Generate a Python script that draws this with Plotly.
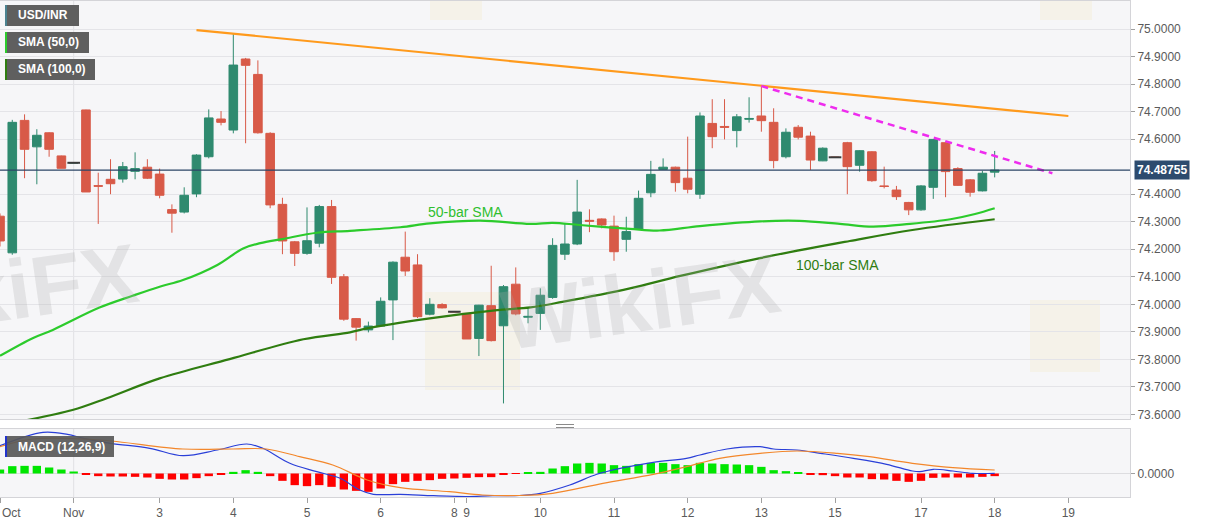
import plotly.graph_objects as go

# ------------------------------------------------------------------ data
# 4-hour USD/INR candles, index 0 = first visible bar
open_ = [74.320, 74.187, 74.668, 74.572, 74.623, 74.539, 74.514, 74.706, 74.431, 74.454,
         74.455, 74.483, 74.498, 74.473, 74.344, 74.335, 74.401, 74.536, 74.673, 74.633,
         74.891, 74.835, 74.621, 74.363, 74.227, 74.185, 74.222, 74.355, 74.100, 73.948,
         73.907, 73.921, 74.016, 74.171, 74.143, 73.964, 73.999, 73.973, 73.967, 73.876,
         73.995, 73.922, 74.073, 73.953, 73.967, 74.025, 74.182, 74.219, 74.305, 74.310,
         74.284, 74.236, 74.272, 74.405, 74.490, 74.498, 74.458, 74.400, 74.657, 74.646,
         74.631, 74.672, 74.684, 74.661, 74.536, 74.643, 74.611, 74.521, 74.534, 74.587,
         74.505, 74.554, 74.430, 74.415, 74.370, 74.343, 74.425, 74.587, 74.493, 74.452,
         74.412, 74.480]
high = [74.330, 74.670, 74.690, 74.636, 74.625, 74.540, 74.514, 74.707, 74.478, 74.527,
        74.517, 74.552, 74.527, 74.493, 74.363, 74.425, 74.545, 74.708, 74.702, 74.982,
        74.895, 74.886, 74.625, 74.387, 74.230, 74.352, 74.361, 74.379, 74.110, 73.950,
        73.937, 74.025, 74.156, 74.264, 74.182, 74.022, 74.004, 73.973, 73.968, 73.998,
        74.140, 74.070, 74.134, 73.985, 74.058, 74.240, 74.294, 74.452, 74.345, 74.312,
        74.322, 74.318, 74.413, 74.521, 74.530, 74.500, 74.609, 74.697, 74.745, 74.745,
        74.691, 74.752, 74.793, 74.712, 74.639, 74.651, 74.627, 74.570, 74.534, 74.590,
        74.560, 74.556, 74.500, 74.430, 74.372, 74.433, 74.600, 74.590, 74.498, 74.455,
        74.485, 74.557]
low = [74.210, 74.180, 74.458, 74.436, 74.536, 74.494, 74.514, 74.408, 74.292, 74.400,
       74.442, 74.454, 74.455, 74.385, 74.260, 74.330, 74.389, 74.530, 74.650, 74.621,
       74.585, 74.620, 74.349, 74.182, 74.139, 74.180, 74.207, 74.074, 73.940, 73.868,
       73.898, 73.920, 73.870, 74.103, 73.950, 73.960, 73.985, 73.973, 73.874, 73.812,
       73.865, 73.640, 73.960, 73.931, 73.907, 74.020, 74.161, 74.215, 74.262, 74.276,
       74.158, 74.191, 74.270, 74.389, 74.489, 74.409, 74.403, 74.383, 74.567, 74.599,
       74.570, 74.660, 74.627, 74.494, 74.530, 74.599, 74.488, 74.520, 74.534, 74.400,
       74.482, 74.445, 74.421, 74.379, 74.324, 74.340, 74.383, 74.389, 74.430, 74.391,
       74.410, 74.461]
close = [74.230, 74.661, 74.563, 74.614, 74.563, 74.494, 74.514, 74.408, 74.429, 74.438,
         74.500, 74.493, 74.458, 74.396, 74.331, 74.396, 74.542, 74.677, 74.661, 74.869,
         74.868, 74.623, 74.361, 74.230, 74.185, 74.231, 74.355, 74.098, 73.946, 73.917,
         73.921, 74.011, 74.153, 74.121, 73.955, 74.000, 73.987, 73.973, 73.874, 73.997,
         73.868, 74.064, 73.965, 73.956, 74.033, 74.214, 74.219, 74.335, 74.302, 74.288,
         74.191, 74.264, 74.385, 74.472, 74.498, 74.442, 74.418, 74.684, 74.609, 74.643,
         74.681, 74.675, 74.667, 74.522, 74.625, 74.607, 74.524, 74.567, 74.534, 74.500,
         74.558, 74.449, 74.428, 74.391, 74.343, 74.430, 74.599, 74.482, 74.432, 74.407,
         74.476, 74.48755]
bar_idx = list(range(len(close)))

doji_idx = [6, 37, 68]
doji_val = [74.514, 73.973, 74.534]

sma50_idx = [0, 2.7, 4.3, 8.1, 10.8, 13.0, 14.9, 17.7, 19.8, 21.2, 23.0, 25.8, 28.5, 32.6,
             35.0, 39.1, 43.2, 45.0, 47.2, 51.3, 53.7, 57.0, 61.9, 65.1, 68.4, 71.1, 74.1,
             77.4, 79.4, 81.0]
sma50_val = [73.813, 73.878, 73.907, 73.988, 74.031, 74.064, 74.088, 74.143, 74.203, 74.222,
             74.237, 74.260, 74.267, 74.280, 74.294, 74.304, 74.292, 74.296, 74.288, 74.274,
             74.268, 74.284, 74.301, 74.303, 74.292, 74.282, 74.292, 74.309, 74.328, 74.349]

sma100_idx = [0, 1.2, 5.9, 8.7, 13.0, 18.7, 24.7, 28.5, 29.5, 35.0, 40.5, 43.2, 45.8, 51.3,
              55.4, 61.9, 69.2, 74.3, 81.0]
sma100_val = [73.558, 73.570, 73.616, 73.659, 73.731, 73.801, 73.873, 73.898, 73.909, 73.949,
              73.979, 73.989, 74.009, 74.058, 74.103, 74.168, 74.230, 74.270, 74.309]

res_trend_idx = [16.0, 87.0]
res_trend_val = [74.996, 74.684]
short_trend_idx = [62.0, 85.7]
short_trend_val = [74.793, 74.476]

last_price = 74.48755

macd_idx = [0, 3.5, 5.5, 6.8, 9.0, 12.2, 14.9, 17.7, 20.1, 21.4, 23.6, 25.8, 27.7, 29.3,
            30.4, 32.6, 35.3, 38.0, 40.1, 42.3, 44.0, 46.4, 48.6, 50.5, 53.2, 55.9, 57.0,
            59.2, 61.9, 63.0, 64.9, 66.8, 69.5, 72.2, 74.3, 74.9, 76.0, 77.6, 79.2, 81.0]
macd_val = [0.0556, 0.0824, 0.0784, 0.0704, 0.0604, 0.0504, 0.0356, 0.0470, 0.0590, 0.0504,
            0.0204, 0.0036, -0.0096, -0.0330, -0.0416, -0.0416, -0.0444, -0.0460, -0.0444,
            -0.0440, -0.0396, -0.0230, -0.0016, 0.0104, 0.0224, 0.0304, 0.0370, 0.0490,
            0.0536, 0.0490, 0.0470, 0.0404, 0.0304, 0.0184, 0.0050, 0.0036, 0.0084, 0.0050,
            0.0004, 0.0004]
signal_idx = [0, 2.7, 8.1, 14.9, 19.0, 21.7, 24.4, 27.1, 29.9, 32.6, 36.6, 39.3, 42.3, 45.0,
              49.1, 53.2, 55.9, 58.6, 61.9, 64.9, 68.2, 70.8, 74.3, 77.6, 81.0]
signal_val = [0.0536, 0.0690, 0.0670, 0.0490, 0.0490, 0.0490, 0.0336, 0.0170, -0.0130,
              -0.0284, -0.0364, -0.0430, -0.0440, -0.0396, -0.0196, -0.0016, 0.0136, 0.0304,
              0.0404, 0.0450, 0.0404, 0.0336, 0.0204, 0.0116, 0.0070]
hist_val = [0.008, 0.0147, 0.0153, 0.0153, 0.012, 0.008, 0.004, -0.0013, -0.0053, -0.006,
            -0.006, -0.0067, -0.008, -0.0107, -0.012, -0.012, -0.0093, -0.0053, -0.002, 0.0033,
            0.0067, 0.0033, -0.0053, -0.0147, -0.0233, -0.0253, -0.0233, -0.0267, -0.032, -0.0347,
            -0.0367, -0.03, -0.0213, -0.0167, -0.0147, -0.0133, -0.0107, -0.01, -0.0087, -0.0073,
            -0.0073, -0.002, -0.0007, 0.0013, 0.0033, 0.01, 0.0147, 0.02, 0.0213, 0.02,
            0.0167, 0.0153, 0.0187, 0.0213, 0.0213, 0.0187, 0.0167, 0.0213, 0.02, 0.0187,
            0.018, 0.0167, 0.0133, 0.0067, 0.0047, 0.002, -0.0013, -0.0033, -0.0053, -0.008,
            -0.008, -0.0113, -0.012, -0.0147, -0.0167, -0.0147, -0.0087, -0.008, -0.008, -0.008,
            -0.0067, -0.0053]

day_tick_idx = [0, 6, 13, 19, 25, 31, 37, 38, 44, 50, 56, 62, 68, 75, 81, 87]
day_tick_lbl = ["", "Nov", "3", "4", "5", "6", "8", "9", "10", "11", "12", "13", "15", "17", "18", "19"]
price_ticks = [73.6, 73.7, 73.8, 73.9, 74.0, 74.1, 74.2, 74.3, 74.4, 74.6, 74.7, 74.8, 74.9, 75.0]

# ------------------------------------------------------------------ geometry helpers
W, H = 1207, 526
ML, MR, MT, MB = 0, 77, 1, 29
PW, PH = W - ML - MR, H - MT - MB


def px(x):
    return x / PW


def py(y):
    return (H - MB - y) / PH


FONT = "Liberation Sans, Arial, sans-serif"
UP, DOWN = "#2f8a6f", "#d85a48"

fig = go.Figure()

fig.add_trace(go.Candlestick(
    x=bar_idx, open=open_, high=high, low=low, close=close,
    increasing=dict(line=dict(color=UP, width=1), fillcolor=UP),
    decreasing=dict(line=dict(color=DOWN, width=1), fillcolor=DOWN),
    xaxis="x", yaxis="y", hoverinfo="skip"))
fig.add_trace(go.Scatter(
    x=doji_idx, y=doji_val, mode="markers",
    marker=dict(symbol="line-ew", size=9, line=dict(width=2, color="#3a3a3a")),
    xaxis="x", yaxis="y", hoverinfo="skip"))
fig.add_trace(go.Scatter(x=sma50_idx, y=sma50_val, mode="lines",
                         line=dict(color="#2ccb2c", width=2.2, shape="spline"),
                         xaxis="x", yaxis="y", hoverinfo="skip"))
fig.add_trace(go.Scatter(x=sma100_idx, y=sma100_val, mode="lines",
                         line=dict(color="#2f7d10", width=2.2, shape="spline"),
                         xaxis="x", yaxis="y", hoverinfo="skip"))
fig.add_trace(go.Scatter(x=res_trend_idx, y=res_trend_val, mode="lines",
                         line=dict(color="#ff9a1c", width=2.2),
                         xaxis="x", yaxis="y", hoverinfo="skip"))
fig.add_trace(go.Scatter(x=short_trend_idx, y=short_trend_val, mode="lines",
                         line=dict(color="#ee2cee", width=2.5, dash="7px,5px"),
                         xaxis="x", yaxis="y", hoverinfo="skip"))

# MACD panel
hist_col = ["#00e600" if v >= 0 else "#ff0000" for v in hist_val]
fig.add_trace(go.Bar(x=bar_idx, y=hist_val, marker=dict(color=hist_col, line=dict(width=0)),
                     width=0.68, xaxis="x2", yaxis="y2", hoverinfo="skip"))
fig.add_trace(go.Scatter(x=macd_idx, y=macd_val, mode="lines",
                         line=dict(color="#2a3fd8", width=1.2, shape="spline"),
                         xaxis="x2", yaxis="y2", hoverinfo="skip"))
fig.add_trace(go.Scatter(x=signal_idx, y=signal_val, mode="lines",
                         line=dict(color="#f3872b", width=1.2, shape="spline"),
                         xaxis="x2", yaxis="y2", hoverinfo="skip"))

XR = [0, PW / 12.28]
axis_line = "#d4d4d8"
grid = "#e4e4e8"
tickfont = dict(family=FONT, size=12, color="#5a5a5a")

fig.update_layout(
    width=W, height=H,
    margin=dict(l=ML, r=MR, t=MT, b=MB),
    paper_bgcolor="white", plot_bgcolor="#f6f6f8",
    showlegend=False, hovermode=False,
    boxgap=0.3, boxgroupgap=0,
    xaxis=dict(domain=[0, 1], range=XR, anchor="y", showticklabels=False, showgrid=False,
               zeroline=False, showline=True, mirror=True, linecolor=axis_line,
               rangeslider=dict(visible=False), fixedrange=True),
    yaxis=dict(domain=[py(419), 1], range=[75 - (419 - 29) / 275.3, 75 + (29 - 1) / 275.3],
               side="right", anchor="x", tickvals=price_ticks,
               ticktext=["%.4f" % v for v in price_ticks], tickfont=tickfont,
               ticks="outside", ticklen=4, tickcolor="#a0a0a0", showgrid=True, gridcolor=grid,
               zeroline=False, showline=True, mirror=True, linecolor=axis_line),
    xaxis2=dict(domain=[0, 1], range=XR, anchor="y2", tickvals=day_tick_idx, ticktext=day_tick_lbl,
                tickfont=tickfont, tickangle=0, ticks="outside", ticklen=5, tickcolor="#a0a0a0",
                showgrid=False, zeroline=False, showline=True, mirror=True, linecolor=axis_line),
    yaxis2=dict(domain=[0, py(429)], range=[-0.047, 0.089], side="right", anchor="x2",
                tickvals=[0], ticktext=["0.0000"], tickfont=tickfont, ticks="outside", ticklen=4,
                tickcolor="#a0a0a0", showgrid=False, zeroline=True, zerolinecolor="#dddde0",
                zerolinewidth=1, showline=True, mirror=True, linecolor=axis_line),
)

shapes = []
# month separator gridline
for yr in ("y", "y2"):
    shapes.append(dict(type="line", xref="x", yref=yr + " domain", x0=6, x1=6, y0=0, y1=1,
                       line=dict(color="#e0e0e4", width=1), layer="below"))
# faint watermark logos
for (x0, y0, x1, y1) in [(425, 292, 520, 390), (1030, 300, 1100, 372), (430, -25, 482, 20),
                         (1040, -25, 1092, 20)]:
    shapes.append(dict(type="rect", xref="paper", yref="paper", x0=px(x0), x1=px(x1),
                       y0=py(y1), y1=py(y0), fillcolor="rgba(245,225,165,0.18)",
                       line=dict(width=0), layer="below"))
# last price line
shapes.append(dict(type="line", xref="x domain", yref="y", x0=0, x1=1, y0=last_price, y1=last_price,
                   line=dict(color="#2b4566", width=1.2)))
# legend boxes
legend_boxes = [("USD/INR", 5, 79, 5, 26, "#4b8290"),
                ("SMA (50,0)", 5, 89, 32, 53, "#2ccb2c"),
                ("SMA (100,0)", 5, 95, 59, 80, "#2f7d10")]
annotations = []
for (txt, x0, x1, y0, y1, c) in legend_boxes:
    shapes.append(dict(type="rect", xref="paper", yref="paper", x0=px(x0), x1=px(x1),
                       y0=py(y1), y1=py(y0), fillcolor="#5f5f5f", line=dict(width=0)))
    shapes.append(dict(type="line", xref="paper", yref="paper", x0=px(x0 + 1), x1=px(x0 + 1),
                       y0=py(y1), y1=py(y0), line=dict(color=c, width=2)))
    annotations.append(dict(xref="paper", yref="paper", x=px(16), y=py((y0 + y1) / 2),
                            xanchor="left", yanchor="middle", showarrow=False,
                            text="<b>%s</b>" % txt, font=dict(family=FONT, size=12, color="white")))
# MACD label box
shapes.append(dict(type="rect", xref="paper", yref="paper", x0=px(5), x1=px(114), y0=py(457),
                   y1=py(436), fillcolor="rgba(88,88,88,0.92)", line=dict(width=0)))
shapes.append(dict(type="line", xref="paper", yref="paper", x0=px(6), x1=px(6), y0=py(457),
                   y1=py(436), line=dict(color="#2233cc", width=2)))
annotations.append(dict(xref="paper", yref="paper", x=px(16), y=py(446.5), xanchor="left",
                        yanchor="middle", showarrow=False, text="<b>MACD (12,26,9)</b>",
                        font=dict(family=FONT, size=12, color="white")))
# panel resize handle
for yy in (424.5, 427.5):
    shapes.append(dict(type="line", xref="paper", yref="paper", x0=px(556), x1=px(574),
                       y0=py(yy), y1=py(yy), line=dict(color="#8a8a8a", width=1)))

# watermarks
annotations.append(dict(xref="paper", yref="paper", x=px(640), y=py(302), showarrow=False,
                        text="<b>WikiFX</b>", textangle=-8,
                        font=dict(family=FONT, size=84, color="rgba(170,170,170,0.25)")))
annotations.append(dict(xref="paper", yref="paper", x=px(145), y=py(292), xanchor="right",
                        showarrow=False, text="<b>WikiFX</b>", textangle=-8,
                        font=dict(family=FONT, size=84, color="rgba(170,170,170,0.25)")))
# SMA labels
annotations.append(dict(xref="x", yref="y", x=37.9, y=74.335, showarrow=False, text="50-bar SMA",
                        font=dict(family=FONT, size=14, color="#2fbf2f")))
annotations.append(dict(xref="x", yref="y", x=68.2, y=74.143, showarrow=False, text="100-bar SMA",
                        font=dict(family=FONT, size=14, color="#2f7d10")))
# last price label
annotations.append(dict(xref="paper", yref="y", x=1, y=last_price, xanchor="left", xshift=4,
                        yanchor="middle", showarrow=False, text="<b>74.48755</b>",
                        bgcolor="#2d4b6e", borderpad=2,
                        font=dict(family=FONT, size=12, color="white")))
# "Oct" label at left edge
annotations.append(dict(xref="paper", yref="paper", x=0, y=py(513), xanchor="left",
                        yanchor="middle", showarrow=False, text="Oct", font=tickfont))

fig.update_layout(shapes=shapes, annotations=annotations)
fig.write_html("out.html", config={"displayModeBar": False},
               post_script="document.body.style.margin='0';document.body.style.padding='0';")
